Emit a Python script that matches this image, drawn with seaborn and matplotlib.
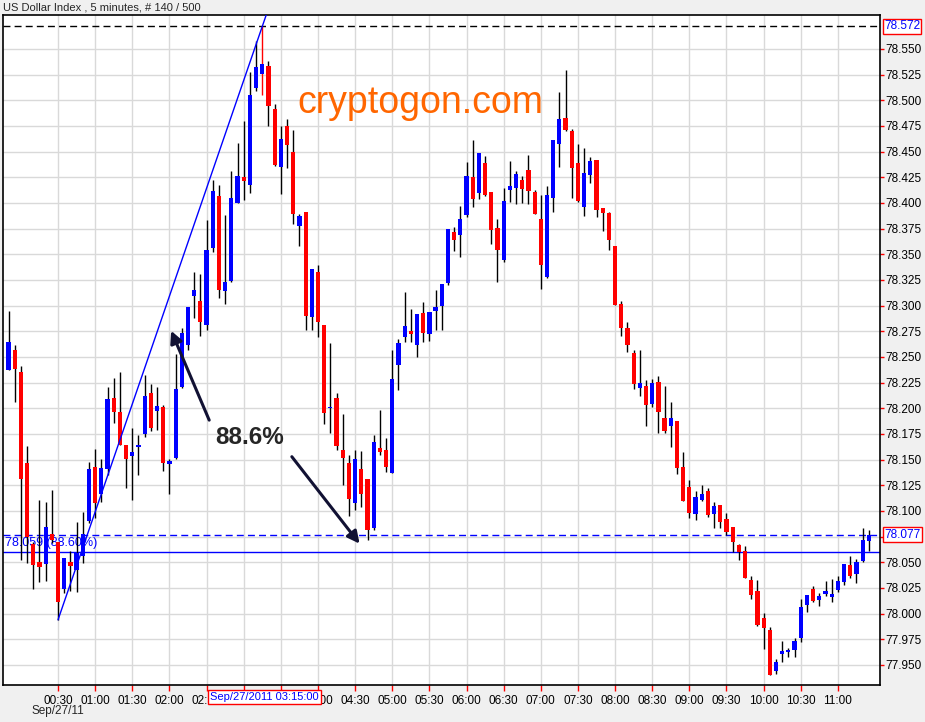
import numpy as np
import pandas as pd
import seaborn as sns
import matplotlib
matplotlib.use("Agg")
import matplotlib.pyplot as plt
import matplotlib.transforms as mtrans

# 5-minute candles, Sep 26 23:50 -> Sep 27 11:25 (140 bars)
opens = [78.237, 78.257, 78.235, 78.147, 78.068, 78.050, 78.048, 78.078, 78.070, 78.024,
         78.050, 78.043, 78.056, 78.090, 78.143, 78.117, 78.141, 78.210, 78.196, 78.164,
         78.154, 78.162, 78.175, 78.215, 78.197, 78.201, 78.146, 78.152, 78.221, 78.262,
         78.309, 78.305, 78.281, 78.356, 78.407, 78.314, 78.324, 78.400, 78.425, 78.418,
         78.512, 78.526, 78.533, 78.492, 78.435, 78.475, 78.450, 78.378, 78.391, 78.289,
         78.333, 78.281, 78.200, 78.210, 78.159, 78.147, 78.108, 78.141, 78.131, 78.083,
         78.161, 78.159, 78.137, 78.242, 78.269, 78.275, 78.262, 78.293, 78.272, 78.295,
         78.300, 78.322, 78.372, 78.369, 78.388, 78.425, 78.410, 78.439, 78.411, 78.376,
         78.344, 78.413, 78.415, 78.422, 78.432, 78.411, 78.384, 78.328, 78.405, 78.457,
         78.483, 78.470, 78.439, 78.396, 78.427, 78.442, 78.395, 78.390, 78.358, 78.302,
         78.278, 78.254, 78.220, 78.222, 78.204, 78.226, 78.191, 78.183, 78.188, 78.143,
         78.123, 78.097, 78.111, 78.119, 78.097, 78.106, 78.092, 78.084, 78.067, 78.061,
         78.033, 78.022, 77.996, 77.984, 77.944, 77.961, 77.963, 77.965, 77.976, 78.008,
         78.024, 78.013, 78.019, 78.016, 78.023, 78.031, 78.047, 78.039, 78.051, 78.071]
highs = [78.295, 78.262, 78.241, 78.163, 78.070, 78.111, 78.109, 78.120, 78.070, 78.054,
         78.061, 78.089, 78.099, 78.148, 78.160, 78.151, 78.221, 78.230, 78.235, 78.164,
         78.181, 78.174, 78.232, 78.224, 78.221, 78.203, 78.151, 78.253, 78.278, 78.299,
         78.333, 78.331, 78.383, 78.422, 78.418, 78.388, 78.431, 78.458, 78.480, 78.528,
         78.558, 78.572, 78.538, 78.496, 78.475, 78.482, 78.471, 78.389, 78.391, 78.336,
         78.340, 78.281, 78.264, 78.215, 78.194, 78.155, 78.159, 78.158, 78.131, 78.174,
         78.198, 78.171, 78.257, 78.268, 78.313, 78.297, 78.292, 78.304, 78.294, 78.315,
         78.321, 78.375, 78.377, 78.397, 78.440, 78.461, 78.449, 78.446, 78.411, 78.384,
         78.415, 78.441, 78.431, 78.426, 78.447, 78.413, 78.408, 78.417, 78.461, 78.508,
         78.530, 78.472, 78.457, 78.454, 78.445, 78.442, 78.395, 78.391, 78.358, 78.305,
         78.284, 78.257, 78.257, 78.228, 78.229, 78.231, 78.222, 78.206, 78.188, 78.157,
         78.130, 78.119, 78.125, 78.122, 78.109, 78.106, 78.098, 78.084, 78.068, 78.066,
         78.037, 78.033, 78.001, 77.987, 77.956, 77.973, 77.967, 77.976, 78.014, 78.018,
         78.027, 78.020, 78.032, 78.034, 78.037, 78.048, 78.056, 78.053, 78.083, 78.081]
lows = [78.237, 78.206, 78.052, 78.049, 78.024, 78.031, 78.032, 78.069, 77.994, 78.020,
        78.022, 78.021, 78.049, 78.088, 78.093, 78.109, 78.135, 78.186, 78.164, 78.122,
        78.111, 78.135, 78.172, 78.178, 78.179, 78.139, 78.117, 78.151, 78.220, 78.257,
        78.288, 78.270, 78.276, 78.352, 78.307, 78.302, 78.323, 78.400, 78.403, 78.410,
        78.509, 78.505, 78.475, 78.436, 78.409, 78.434, 78.380, 78.358, 78.276, 78.276,
        78.269, 78.185, 78.176, 78.159, 78.125, 78.095, 78.101, 78.104, 78.072, 78.081,
        78.155, 78.138, 78.137, 78.218, 78.265, 78.265, 78.250, 78.265, 78.266, 78.276,
        78.276, 78.320, 78.353, 78.347, 78.386, 78.396, 78.404, 78.407, 78.360, 78.323,
        78.343, 78.401, 78.399, 78.400, 78.399, 78.389, 78.316, 78.327, 78.391, 78.435,
        78.470, 78.405, 78.401, 78.387, 78.419, 78.386, 78.373, 78.354, 78.301, 78.270,
        78.255, 78.219, 78.212, 78.183, 78.201, 78.176, 78.176, 78.162, 78.136, 78.110,
        78.093, 78.091, 78.110, 78.094, 78.083, 78.083, 78.077, 78.060, 78.052, 78.035,
        78.014, 77.988, 77.966, 77.940, 77.941, 77.953, 77.958, 77.958, 77.972, 78.002,
        78.011, 78.007, 78.017, 78.011, 78.021, 78.028, 78.035, 78.030, 78.050, 78.061]
closes = [78.265, 78.238, 78.131, 78.075, 78.047, 78.045, 78.084, 78.072, 78.011, 78.054,
          78.046, 78.059, 78.078, 78.141, 78.108, 78.142, 78.209, 78.196, 78.164, 78.151,
          78.157, 78.164, 78.212, 78.181, 78.202, 78.147, 78.149, 78.219, 78.273, 78.299,
          78.315, 78.284, 78.354, 78.412, 78.315, 78.323, 78.405, 78.426, 78.421, 78.505,
          78.532, 78.535, 78.494, 78.437, 78.462, 78.456, 78.389, 78.387, 78.290, 78.336,
          78.284, 78.195, 78.201, 78.163, 78.152, 78.112, 78.151, 78.117, 78.081, 78.167,
          78.157, 78.143, 78.229, 78.264, 78.280, 78.272, 78.292, 78.273, 78.294, 78.299,
          78.321, 78.375, 78.364, 78.384, 78.426, 78.404, 78.449, 78.408, 78.374, 78.354,
          78.402, 78.417, 78.428, 78.414, 78.412, 78.389, 78.340, 78.408, 78.461, 78.482,
          78.471, 78.434, 78.402, 78.429, 78.441, 78.393, 78.390, 78.364, 78.301, 78.278,
          78.262, 78.224, 78.225, 78.203, 78.225, 78.196, 78.178, 78.191, 78.142, 78.110,
          78.098, 78.114, 78.117, 78.096, 78.105, 78.089, 78.080, 78.070, 78.060, 78.035,
          78.018, 77.989, 77.986, 77.940, 77.953, 77.964, 77.964, 77.973, 78.006, 78.018,
          78.012, 78.017, 78.022, 78.019, 78.032, 78.048, 78.037, 78.050, 78.072, 78.077]

first_bar = "2011-09-26 23:50"
swing_low_bar = 8      # 00:30 low
swing_high_bar = 41    # 03:15 high
fib_ratio = 0.886

df = pd.DataFrame({"open": opens, "high": highs, "low": lows, "close": closes})
df["time"] = pd.date_range(first_bar, periods=len(df), freq="5min")
df["i"] = np.arange(len(df))
df["up"] = df["close"] >= df["open"]

sns.set_style("whitegrid", {"grid.color": "#d9d9d9", "axes.edgecolor": "black"})
plt.rcParams["font.family"] = ["Liberation Sans", "DejaVu Sans"]

fig = plt.figure(figsize=(9.25, 7.22), dpi=100, facecolor="#f0f0f0")
ax = fig.add_axes([3 / 925, 1 - 685 / 722, 877 / 925, 670 / 722])
ax.set_facecolor("white")

# wicks then bodies
wick_cols = ["red" if k == swing_high_bar else "black" for k in df["i"]]
ax.vlines(df["i"], df["low"], df["high"], colors=wick_cols, lw=1, zorder=3)
body_low = np.minimum(df["open"], df["close"])
body_h = np.maximum((df["close"] - df["open"]).abs(), 0.0012)
ax.bar(df["i"], body_h, bottom=body_low, width=0.68,
       color=np.where(df["up"], "#0000ff", "#ff0000"), linewidth=0, zorder=4)

# trend line from swing low through swing high
lo = df["low"][swing_low_bar]
hi = df["high"][swing_high_bar]
slope = (hi - lo) / (swing_high_bar - swing_low_bar)
sns.lineplot(x=[swing_low_bar, swing_high_bar + 4], y=[lo, hi + slope * 4],
             color="#0000ff", lw=1, ax=ax, zorder=5)

fib = hi - fib_ratio * (hi - lo)
last = df["close"].iloc[-1]
ax.axhline(hi, color="black", lw=1, ls=(0, (5, 3)), zorder=2)
ax.axhline(last, color="#0000ff", lw=1, ls=(0, (5, 3)), zorder=2)
ax.axhline(fib, color="#0000ff", lw=1, zorder=2)
fib_txt = f"{np.floor(fib * 1000) / 1000:.3f} ({fib_ratio * 100:.2f}%)"
ax.text(-0.6, fib + 0.003, fib_txt, color="#0000ff",
        fontsize=9, va="bottom", ha="left", zorder=2)

# axes
ax.set_xlim(-0.89, 140.8)
ax.set_ylim(77.9305, 78.5831)
yt = np.arange(77.95, 78.5501, 0.025)
ax.set_yticks(yt)
ax.set_yticklabels([f"{v:.3f}" for v in yt])
ax.yaxis.tick_right()
xt = df[(df["time"].dt.minute % 30 == 0) & (df["i"] >= 8)]
ax.set_xticks(xt["i"])
ax.set_xticklabels(xt["time"].dt.strftime("%H:%M"))
ax.tick_params(axis="y", right=True, left=False, direction="out", length=3, width=1,
               color="red", labelcolor="black", labelsize=8.5, pad=1)
ax.tick_params(axis="x", bottom=True, direction="out", length=4, width=1,
               color="red", labelcolor="black", labelsize=8.5, pad=3)
ax.grid(True, color="#d9d9d9", lw=1)
for s in ax.spines.values():
    s.set_color("black")
    s.set_linewidth(1.2)

# value boxes on the price axis
box = dict(boxstyle="square,pad=0.12", fc="white", ec="red", lw=1)
ytr = mtrans.blended_transform_factory(ax.transAxes, ax.transData)
for v in (hi, last):
    ax.text(1.0045, v, f"{v:.3f}", transform=ytr, color="#0000ff", fontsize=8.5,
            va="center", ha="left", bbox=box, clip_on=False, zorder=10)

xtr = mtrans.blended_transform_factory(ax.transData, ax.transAxes)
hi_time = df["time"][swing_high_bar].strftime("%b/%d/%Y %H:%M:%S")
ax.text(swing_high_bar + 0.4, -0.0175, hi_time, transform=xtr, color="#0000ff",
        fontsize=8, ha="center", va="center", zorder=10,
        bbox=dict(boxstyle="square,pad=0.2", fc="white", ec="red", lw=1), clip_on=False)
ax.text(8, -0.0395, df["time"][8].strftime("%b/%d/%y"), transform=xtr, fontsize=8.5,
        ha="center", va="center", clip_on=False)

fig.text(3 / 925, 1 - 7 / 722, "US Dollar Index , 5 minutes, # 140 / 500",
         fontsize=8, va="center", ha="left")

ax.text(0.4755, 0.868, "cryptogon.com", transform=ax.transAxes, color="#ff6600",
        fontsize=27, ha="center", va="center", zorder=6)

# annotation
arrow = dict(arrowstyle="-|>", color="#111133", lw=2.2, mutation_scale=18)
ax.text(0.2816, 0.370, "88.6%", transform=ax.transAxes, fontsize=17.5,
        fontweight="bold", ha="center", va="center", zorder=7)
ax.annotate("", xy=(26.1, 78.278), xytext=(32.6, 78.186), arrowprops=arrow, zorder=7)
ax.annotate("", xy=(57.0, 78.066), xytext=(45.5, 78.155), arrowprops=arrow, zorder=7)

fig.savefig("out.png", dpi=100, facecolor=fig.get_facecolor())
